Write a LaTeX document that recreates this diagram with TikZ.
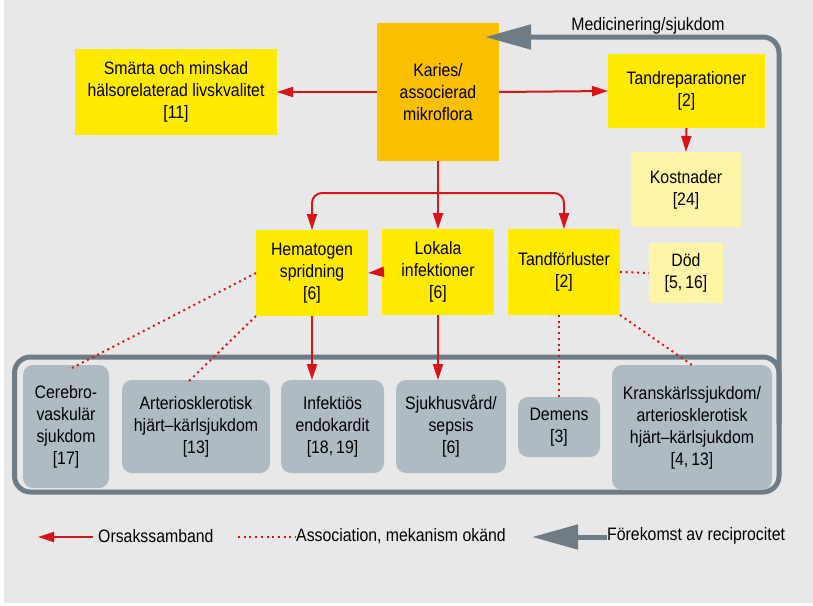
\documentclass[tikz,border=0pt]{standalone}
\usepackage{fontspec}
\setmainfont[FakeStretch=0.88]{Liberation Sans}
\usetikzlibrary{calc}
\usetikzlibrary{arrows.meta}
\definecolor{bgGray}{HTML}{E8E8E8}
\definecolor{kariesOrange}{HTML}{FBC100}
\definecolor{boxYellow}{HTML}{FFEA00}
\definecolor{paleYellow}{HTML}{FFF5A6}
\definecolor{slate}{HTML}{AFBBC3}
\definecolor{frameGray}{HTML}{6F7C85}
\definecolor{causeRed}{HTML}{D7141A}
\tikzset{
  box/.style = {fill=#1, align=center, inner sep=0pt, outer sep=0pt, font=\fontsize{18}{22}\selectfont},
  softbox/.style = {box={#1}, rounded corners=10pt},
  cause/.style = {color=#1, line width=2pt, -{Triangle[length=16pt,width=10pt]}},
  assoc/.style = {color=#1, line width=2pt, dash pattern=on 2pt off 3.7pt},
  recip/.style = {color=#1, line width=5pt, -{Triangle[length=46pt,width=24pt]}},
  frame/.style = {draw=#1, line width=5pt, rounded corners=16pt, inner sep=0pt, outer sep=0pt},
  legendText/.style = {inner sep=0pt, anchor=west, font=\fontsize{18}{22}\selectfont}
}

\begin{document}
\begin{tikzpicture}[x=1pt, y=-1pt]

    % Background
    \useasboundingbox (0,0) rectangle (813,605);
    \fill[bgGray] (4,0) rectangle (813,603);

    % Top row
    \node[box={kariesOrange}, minimum width=122pt, minimum height=138pt] (karies) at (438,92) {Karies/\\associerad\\mikroflora};
    \node[box={boxYellow}, minimum width=202pt, minimum height=86pt] (smarta) at (176,92) {Smärta och minskad\\hälsorelaterad livskvalitet\\{}[11]};
    \node[box={boxYellow}, minimum width=157pt, minimum height=74pt] (repar) at (686.5,91) {Tandreparationer\\{}[2]};
    \node[box={paleYellow}, minimum width=110pt, minimum height=75pt] (kost) at (686,189.5) {Kostnader\\{}[24]};

    % Middle row
    \node[box={boxYellow}, minimum width=112pt, minimum height=86pt] (hema) at (312,273) {Hematogen\\spridning\\{}[6]};
    \node[box={boxYellow}, minimum width=112pt, minimum height=86pt] (lokal) at (438,272) {Lokala\\infektioner\\{}[6]};
    \node[box={boxYellow}, minimum width=112pt, minimum height=86pt] (forlust) at (564,272) {Tandförluster\\{}[2]};
    \node[box={paleYellow}, minimum width=74pt, minimum height=60pt] (dod) at (686,273) {Död\\{}[5,\,16]};

    % Frame with outcomes
    \node[frame={frameGray}, minimum width=764.5pt, minimum height=135pt] (ram) at (396.75,424.5) {};
    \node[softbox={slate}, minimum width=86pt, minimum height=123pt] (cere) at (66,426.5) {Cerebro-\\vaskulär\\sjukdom\\{}[17]};
    \node[softbox={slate}, minimum width=148pt, minimum height=93pt] (arter) at (196,426.5) {Arteriosklerotisk\\hjärt--kärlsjukdom\\{}[13]};
    \node[softbox={slate}, minimum width=103pt, minimum height=93pt] (endo) at (332.5,426.5) {Infektiös\\endokardit\\{}[18,\,19]};
    \node[softbox={slate}, minimum width=110pt, minimum height=93pt] (sjukhus) at (451,426.5) {Sjukhusvård/\\sepsis\\{}[6]};
    \node[softbox={slate}, minimum width=82pt, minimum height=60pt] (demens) at (559,427) {Demens\\{}[3]};
    \node[softbox={slate}, minimum width=160pt, minimum height=125pt] (krans) at (692,427.5) {Kranskärlssjukdom/\\arteriosklerotisk\\hjärt--kärlsjukdom\\{}[4,\,13]};

    % Reciprocity
    \coordinate (back) at (485,37);
    \draw[recip={frameGray}, rounded corners=16pt] (ram.east) |- (back);
    \node[font=\fontsize{18}{22}\selectfont, anchor=base, inner sep=0pt] (medic) at (648,30) {Medicinering/sjukdom};

    % Causal links
    \coordinate (split) at (438,193);
    \draw[cause={causeRed}] (karies.west) -- (smarta.east);
    \draw[cause={causeRed}] (karies.east) -- (repar.west);
    \draw[cause={causeRed}] (repar.south) -- (kost.north);
    \draw[cause={causeRed}] (karies.south) -- (lokal.north);
    \draw[cause={causeRed}, rounded corners=10pt] (split) -| (hema.north);
    \draw[cause={causeRed}, rounded corners=10pt] (split) -| (forlust.north);
    \draw[cause={causeRed}] (lokal.west) -- (hema.east);
    \draw[cause={causeRed}] (hema.south) -- (hema.south |- endo.north);
    \draw[cause={causeRed}] (lokal.south) -- (lokal.south |- sjukhus.north);

    % Associations
    \draw[assoc={causeRed}] (hema.west) -- ([shift={(6,3)}]cere.north);
    \draw[assoc={causeRed}] (hema.south west) -- ([shift={(-9,3)}]arter.north);
    \draw[assoc={causeRed}] (forlust.south -| demens.north) -- (demens.north);
    \draw[assoc={causeRed}] (forlust.south east) -- (krans.north);
    \draw[assoc={causeRed}] (forlust.east) -- (dod.west);

    % Legend
    \coordinate (lcTip) at (38,537);
    \coordinate (laStart) at (238,537);
    \coordinate (lrTip) at (532,537);
    \node[legendText] (lcause) at (98,536) {Orsakssamband};
    \node[legendText] (lassoc) at (296,536) {Association, mekanism okänd};
    \node[legendText] (lrecip) at (607,536) {Förekomst av reciprocitet};
    \draw[cause={causeRed}] ([xshift=-5pt]lcause.west |- lcTip) -- (lcTip);
    \draw[assoc={causeRed}] (laStart) -- (lassoc.west |- laStart);
    \draw[recip={frameGray}] (lrecip.west |- lrTip) -- (lrTip);

\end{tikzpicture}
\end{document}
